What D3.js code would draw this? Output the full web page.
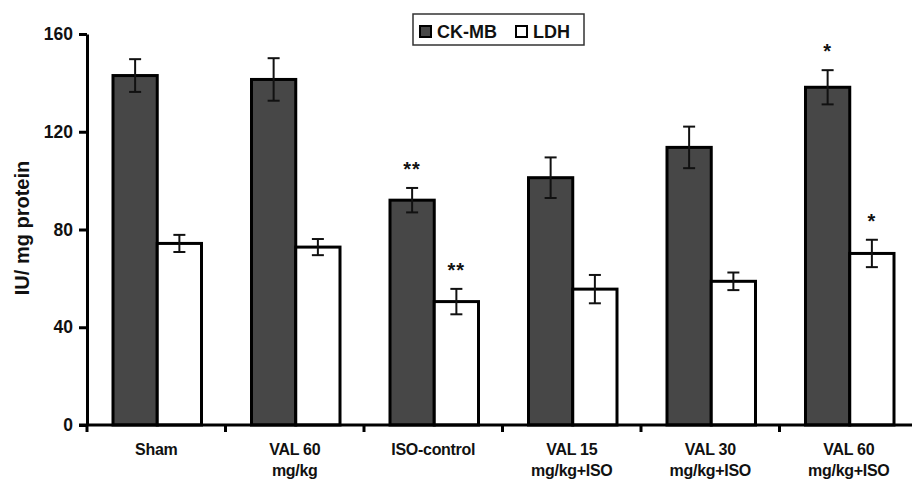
<!DOCTYPE html>
<html><head><meta charset="utf-8">
<script src="https://cdn.jsdelivr.net/npm/d3@7"></script>
<style>body{margin:0;background:#fff}svg{display:block}text{font-family:"Liberation Sans",Arial,sans-serif;font-weight:bold}</style>
</head><body><svg id="c" width="912" height="480"></svg>
<script>
const categories = [["Sham"],["VAL 60","mg/kg"],["ISO-control"],["VAL 15","mg/kg+ISO"],["VAL 30","mg/kg+ISO"],["VAL 60","mg/kg+ISO"]];
const seriesNames = ["CK-MB","LDH"];
const ckmb = [143, 141.4, 92, 101.2, 113.6, 138.2];
const ckmbErr = [6.7, 8.7, 5, 8.3, 8.5, 7];
const ldh = [74.3, 72.8, 50.5, 55.6, 58.8, 70.2];
const ldhErr = [3.5, 3.3, 5.2, 5.8, 3.6, 5.6];
const ckmbSig = ["", "", "**", "", "", "*"];
const ldhSig = ["", "", "**", "", "", "*"];
const yTicks = [0, 40, 80, 120, 160];
const colors = ["#474747", "#ffffff"];

const svg = d3.select("#c");
const x0 = 87, xEnd = 918, yTop = 34, yBot = 425;
const x = d3.scaleBand().domain(d3.range(categories.length)).range([x0, xEnd]).paddingInner(0).paddingOuter(0);
const xs = d3.scaleBand().domain([0,1]).range([26, x.bandwidth() - 24]).padding(0);
const y = d3.scaleLinear().domain([0, 160]).range([yBot, yTop]);

const series = [ {vals: ckmb, err: ckmbErr, sig: ckmbSig}, {vals: ldh, err: ldhErr, sig: ldhSig} ];

const g = svg.append("g");
series.forEach((s, si) => {
  const grp = g.selectAll(null).data(s.vals).enter().append("g")
    .attr("transform", (d, i) => `translate(${x(i) + xs(si)},0)`);
  grp.append("rect")
    .attr("x", 0).attr("width", xs.bandwidth())
    .attr("y", d => y(d)).attr("height", d => y(0) - y(d))
    .attr("fill", colors[si]).attr("stroke", "#000").attr("stroke-width", 3);
  const cx = xs.bandwidth() / 2;
  grp.each(function(d, i) {
    const e = s.err[i];
    const gg = d3.select(this);
    gg.append("line").attr("x1", cx).attr("x2", cx).attr("y1", y(d + e)).attr("y2", y(d - e)).attr("stroke", "#111").attr("stroke-width", 2);
    [d + e, d - e].forEach(v => gg.append("line").attr("x1", cx - 6).attr("x2", cx + 6).attr("y1", y(v)).attr("y2", y(v)).attr("stroke", "#111").attr("stroke-width", 2));
    if (s.sig[i]) gg.append("text").attr("x", cx).attr("y", y(d + e) - 12).attr("text-anchor", "middle")
      .attr("font-size", 20).attr("letter-spacing", 1).attr("fill", "#111").text(s.sig[i]);
  });
});

// Y axis
const yAxis = d3.axisLeft(y).tickValues(yTicks).tickSize(8).tickSizeOuter(0).tickPadding(6);
const ya = svg.append("g").attr("transform", `translate(${x0},0)`).call(yAxis);
ya.select(".domain").attr("stroke", "#000").attr("stroke-width", 3);
ya.selectAll(".tick line").attr("stroke", "#000").attr("stroke-width", 3);
ya.selectAll(".tick text").attr("font-size", 17.5).attr("fill", "#111").style("font-family", '"Liberation Sans",Arial,sans-serif').style("font-weight", "bold");

// X axis
const xa = svg.append("g").attr("transform", `translate(0,${yBot})`);
xa.append("line").attr("x1", x0 - 8).attr("x2", xEnd).attr("y1", 0).attr("y2", 0).attr("stroke", "#000").attr("stroke-width", 3);
xa.selectAll(null).data(d3.range(categories.length + 1)).enter().append("line")
  .attr("x1", i => x0 + i * x.bandwidth()).attr("x2", i => x0 + i * x.bandwidth())
  .attr("y1", 0).attr("y2", 7).attr("stroke", "#000").attr("stroke-width", 3);
const lbl = xa.selectAll(null).data(categories).enter().append("text")
  .attr("text-anchor", "middle").attr("font-size", 16).attr("letter-spacing", -0.3).attr("fill", "#111")
  .attr("transform", (d, i) => `translate(${x(i) + x.bandwidth() / 2},30)`);
lbl.selectAll("tspan").data(d => d).enter().append("tspan")
  .attr("x", 0).attr("dy", (d, j) => j === 0 ? 0 : 21).text(d => d);

// Y label
svg.append("text").attr("transform", "translate(29,228) rotate(-90)").attr("text-anchor", "middle")
  .attr("font-size", 20).attr("fill", "#111").text("IU/ mg protein");

// Legend
const lg = svg.append("g").attr("transform", "translate(413,14)");
lg.append("rect").attr("width", 171).attr("height", 31).attr("fill", "#fff").attr("stroke", "#333").attr("stroke-width", 1.5);
const lx = [7, 103];
seriesNames.forEach((n, i) => {
  lg.append("rect").attr("x", lx[i]).attr("y", 12).attr("width", 11).attr("height", 11)
    .attr("fill", colors[i]).attr("stroke", "#000").attr("stroke-width", 2);
  lg.append("text").attr("x", lx[i] + 17).attr("y", 24).attr("font-size", 18).attr("fill", "#111").text(n);
});
</script></body></html>
